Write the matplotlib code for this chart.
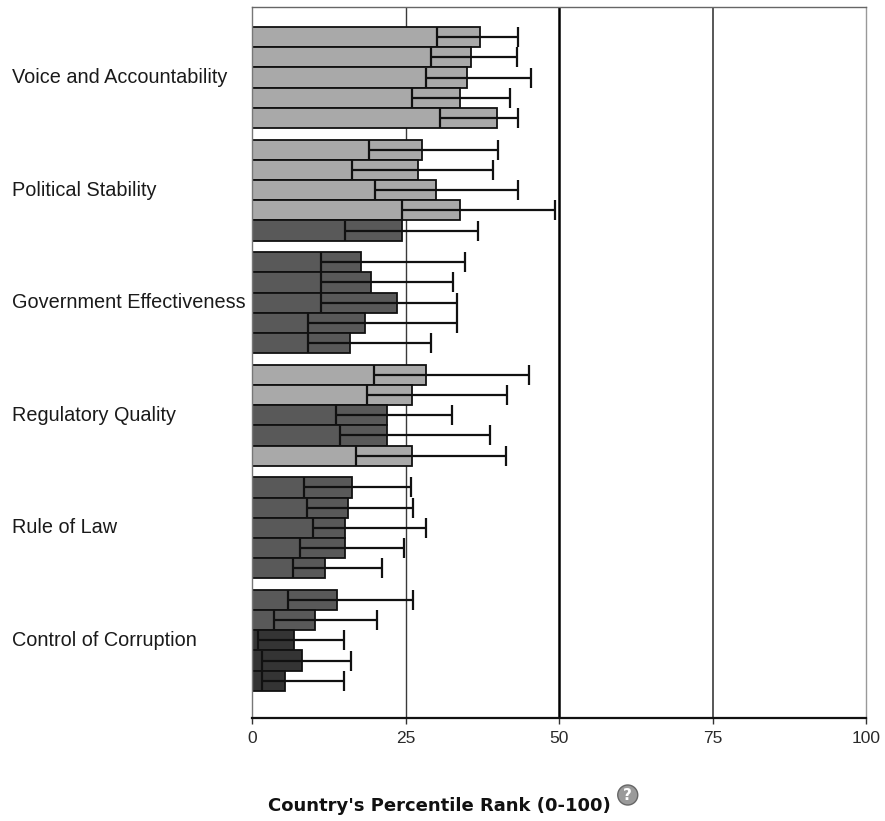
import matplotlib
matplotlib.use("Agg")
import matplotlib.pyplot as plt
import matplotlib.transforms as mtransforms
from matplotlib.patches import Circle
import numpy as np

# ---------------------------------------------------------
# DATA  (percentile rank 0-100, five years per indicator,
#        with lower / upper ends of the margin of error)
# ---------------------------------------------------------
indicators = ["Voice and Accountability", "Political Stability",
              "Government Effectiveness", "Regulatory Quality",
              "Rule of Law", "Control of Corruption"]

rank = [
    [37.1, 35.7, 35.0, 33.9, 39.9],
    [27.7, 27.0, 29.9, 33.9, 24.5],
    [17.7, 19.4, 23.6, 18.4, 16.0],
    [28.4, 26.1, 22.0, 22.0, 26.1],
    [16.3, 15.7, 15.2, 15.2, 11.9],
    [13.8, 10.2, 6.9, 8.2, 5.3],
]
lower = [
    [30.1, 29.1, 28.3, 26.1, 30.6],
    [19.0, 16.3, 20.1, 24.4, 15.2],
    [11.3, 11.3, 11.3, 9.2, 9.2],
    [19.8, 18.7, 13.7, 14.4, 16.9],
    [8.4, 8.9, 10.0, 7.8, 6.6],
    [5.8, 3.6, 1.0, 1.7, 1.7],
]
upper = [
    [43.4, 43.1, 45.5, 42.1, 43.4],
    [40.1, 39.3, 43.4, 49.4, 36.8],
    [34.7, 32.8, 33.4, 33.4, 29.2],
    [45.1, 41.5, 32.5, 38.8, 41.3],
    [25.9, 26.3, 28.3, 24.7, 21.2],
    [26.3, 20.3, 15.0, 16.2, 15.0],
]
xticks = [0, 25, 50, 75, 100]


def band_color(v):
    # grey shade of the percentile band the value falls in
    if v < 10:
        return "#343434"
    if v < 25:
        return "#595959"
    return "#a9a9a9"


# ---------------------------------------------------------
# PLOT
# ---------------------------------------------------------
W, H = 885, 821
fig = plt.figure(figsize=(W / 100, H / 100), dpi=100)
ax = fig.add_axes([252 / W, 1 - 718 / H, 614 / W, 711 / H])

pitch = 5.57
n_years = 5

for g, name in enumerate(indicators):
    ys = g * pitch + np.arange(n_years) + 0.5
    vals = np.array(rank[g])
    lo = vals - np.array(lower[g])
    hi = np.array(upper[g]) - vals
    ax.barh(ys, vals, height=1.0, color=[band_color(v) for v in vals],
            edgecolor="#111111", linewidth=1.3, zorder=2)
    ax.errorbar(vals, ys, xerr=[lo, hi], fmt="none", ecolor="#111111",
                elinewidth=1.6, capsize=7, capthick=1.6, zorder=3)

# reference lines
ax.axvline(25, color="#3a3a3a", lw=1.0, zorder=0.5)
ax.axvline(50, color="#000000", lw=1.8, zorder=0.5)
ax.axvline(75, color="#4a4a4a", lw=1.3, zorder=0.5)

ax.set_xlim(0, 100)
ax.set_ylim(5 * pitch + n_years + 1.34, -0.99)
ax.set_yticks([])
ax.set_xticks(xticks)
ax.set_xticklabels([str(t) for t in xticks], fontsize=12.5,
                   family="Liberation Sans", color="#2a2a2a")
ax.tick_params(axis="x", direction="out", length=4, width=1, pad=5,
               color="#333333")

for side, col, lw in [("left", "#777777", 1.0), ("top", "#666666", 1.0),
                      ("right", "#999999", 1.0), ("bottom", "#111111", 1.6)]:
    ax.spines[side].set_color(col)
    ax.spines[side].set_linewidth(lw)

# indicator labels, left aligned at the figure edge
trans = mtransforms.blended_transform_factory(fig.transFigure, ax.transData)
for g, name in enumerate(indicators):
    yc = g * pitch + n_years / 2
    ax.text(12 / W, yc, name, transform=trans, ha="left", va="center",
            fontsize=14.3, family="Liberation Sans", color="#1a1a1a")

# axis title with help icon
title = fig.text(268 / W, 1 - 806 / H, "Country's Percentile Rank (0-100)",
                 ha="left", va="center", fontsize=13, fontweight="bold",
                 family="DejaVu Sans", color="#111111")
fig.canvas.draw()
bb = title.get_window_extent(renderer=fig.canvas.get_renderer())
cx = bb.x1 + 17
cy = bb.y1 + 2
fig.patches.append(Circle((cx, cy), 10, transform=None,
                          facecolor="#9a9a9a", edgecolor="#666666", lw=1))
fig.text(cx / W, cy / H, "?", ha="center", va="center", fontsize=11,
         fontweight="bold", color="white", family="DejaVu Sans")

fig.savefig("out.png", dpi=100)
